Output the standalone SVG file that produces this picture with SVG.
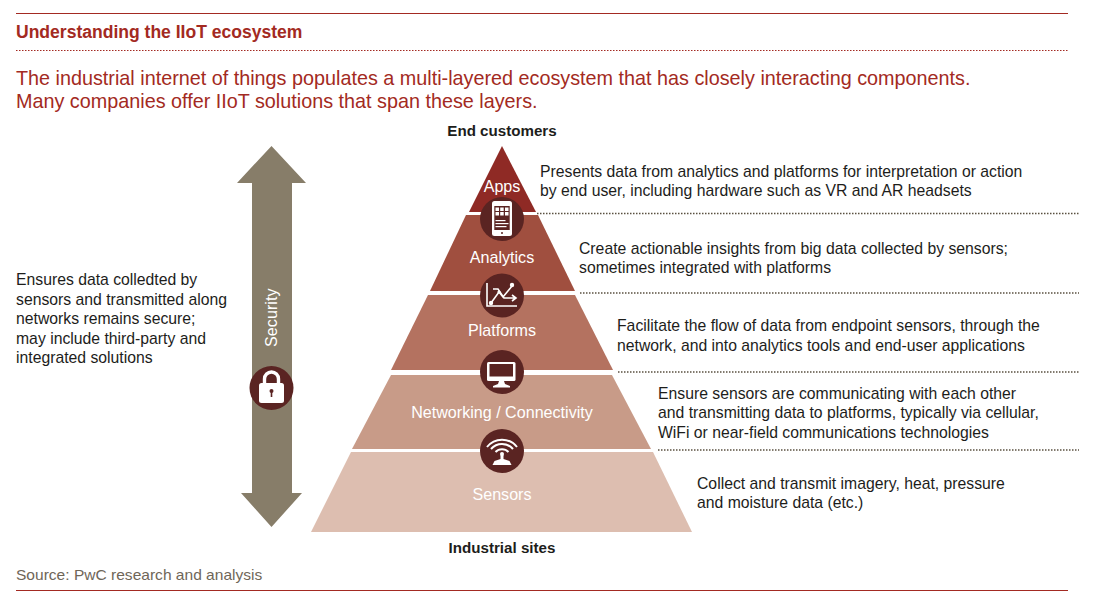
<svg xmlns="http://www.w3.org/2000/svg" width="1104" height="614" viewBox="0 0 1104 614">
<style>
text{font-family:"Liberation Sans",Arial,sans-serif}
.d{font-size:15.75px;fill:#1d1d1b}
.l{font-size:16.1px;fill:#fff;text-anchor:middle}
.c{fill:#5a2422}
.w{fill:#fff}
.ws{fill:none;stroke:#fff;stroke-width:1.6}
.dot{stroke:#5a5040;stroke-width:1.3;stroke-dasharray:1.5 1.5;fill:none}
.b{font-size:15.15px;font-weight:bold;fill:#1d1d1b;text-anchor:middle}
</style>
<rect width="1104" height="614" fill="#fff"/>
<g id="header">
<line x1="16" y1="13.500" x2="1068" y2="13.500" stroke="#a32a22" stroke-width="1"/>
<text x="16" y="37.800" font-size="17.550" font-weight="bold" fill="#a32a22">Understanding the IIoT ecosystem</text>
<line x1="16" y1="50.500" x2="1068" y2="50.500" stroke="#a32a22" stroke-width="1" stroke-dasharray="1.500 1.500"/>
<text x="16" y="84.600" font-size="19.800" fill="#a32a22">The industrial internet of things populates a multi-layered ecosystem that has closely interacting components.</text>
<text x="16" y="107.600" font-size="19.800" fill="#a32a22">Many companies offer IIoT solutions that span these layers.</text>
</g>
<g id="connectors">
<line x1="537" y1="213.500" x2="1079" y2="213.500" class="dot"/>
<line x1="580" y1="293" x2="1079" y2="293" class="dot"/>
<line x1="618" y1="372" x2="1079" y2="372" class="dot"/>
<line x1="658" y1="450" x2="1079" y2="450" class="dot"/>
</g>
<g id="security">
<polygon points="271.500,146 306,183 292,183 292,493 302,493 271.500,527 241,493 252,493 252,183 237,183" fill="#877d69"/>
<text transform="translate(277,347) rotate(-90)" font-size="16.200" fill="#fff">Security</text>
<circle cx="271.500" cy="388" r="22" class="c"/>
<path d="M264.500 384v-5a7 7 0 0 1 14 0v5" fill="none" stroke="#fff" stroke-width="3.400"/>
<rect x="259" y="383" width="25" height="20" rx="2.500" class="w"/>
<circle cx="271.500" cy="391" r="2" class="c"/><rect x="270.700" y="391" width="1.600" height="6" class="c"/>
<text x="16" y="285.400" class="d">Ensures data colledted by</text>
<text x="16" y="305.400" class="d">sensors and transmitted along</text>
<text x="16" y="324.400" class="d">networks remains secure;</text>
<text x="16" y="344.400" class="d">may include third-party and</text>
<text x="16" y="363.400" class="d">integrated solutions</text>
</g>
<text id="top-label" x="502" y="136" class="b">End customers</text>
<text id="bottom-label" x="502" y="553" class="b">Industrial sites</text>
<g id="apps">
<polygon points="502,146 536,212 469,212" fill="#8f2a25"/>
<text x="502" y="191.500" class="l">Apps</text>
<text x="540" y="177.400" class="d">Presents data from analytics and platforms for interpretation or action</text>
<text x="540" y="196.400" class="d">by end user, including hardware such as VR and AR headsets</text>
</g>
<g id="analytics">
<polygon points="466,215 538,215 575,291 430,291" fill="#a04f3f"/>
<text x="502" y="262.500" class="l">Analytics</text>
<circle cx="502" cy="219" r="22" class="c"/>
<rect x="492" y="201" width="20" height="35" rx="2.500" class="w"/>
<rect x="494.300" y="206" width="15.400" height="24" class="c"/>
<circle cx="502" cy="233" r="1" class="c"/>
<g class="w"><rect x="495.500" y="207.500" width="3.500" height="3.500"/><rect x="500.200" y="207.500" width="3.500" height="3.500"/><rect x="505" y="207.500" width="3.500" height="3.500"/><rect x="495.500" y="212" width="3.500" height="3.500"/><rect x="500.200" y="212" width="3.500" height="3.500"/><rect x="505" y="212" width="3.500" height="3.500"/><rect x="495.500" y="220" width="10" height="1.200"/><rect x="495.500" y="223" width="13" height="1.200"/><rect x="495.500" y="226" width="11" height="1.200"/></g>
<text x="579" y="254.400" class="d">Create actionable insights from big data collected by sensors;</text>
<text x="579" y="273.400" class="d">sometimes integrated with platforms</text>
</g>
<g id="platforms">
<polygon points="428,295 575,295 613,370 391,370" fill="#b47260"/>
<text x="502" y="335.500" class="l">Platforms</text>
<circle cx="502" cy="295.500" r="22" class="c"/>
<path d="M487 283v23h30" class="ws"/>
<path d="M491 303l8-11 4 5 9-11M493 289l5 0 6 9 11 0M512 295l4 3-4 3" class="ws"/>
<circle cx="491" cy="303" r="2.200" class="w"/><circle cx="499" cy="292" r="1.600" class="w"/><circle cx="512" cy="285" r="2.200" class="w"/>
<text x="617" y="331.400" class="d">Facilitate the flow of data from endpoint sensors, through the</text>
<text x="617" y="351.400" class="d">network, and into analytics tools and end-user applications</text>
</g>
<g id="networking">
<polygon points="391,375 612,375 651,449 352,449" fill="#c89b88"/>
<text x="502" y="417.500" class="l">Networking / Connectivity</text>
<circle cx="502" cy="372" r="22" class="c"/>
<rect x="487" y="362" width="28.500" height="19" rx="1.500" class="w"/>
<rect x="489.500" y="364" width="23.500" height="12.500" class="c"/>
<path d="M499 381h5l1 3 5 2v1.500h-17v-1.500l5-2z" class="w"/>
<text x="658" y="399.400" class="d">Ensure sensors are communicating with each other</text>
<text x="658" y="418.400" class="d">and transmitting data to platforms, typically via cellular,</text>
<text x="658" y="438.400" class="d">WiFi or near-field communications technologies</text>
</g>
<g id="sensors">
<polygon points="351,452 653,452 692,532 311,532" fill="#ddbeb0"/>
<text x="502" y="499.500" class="l">Sensors</text>
<circle cx="502" cy="451" r="22" class="c"/>
<path d="M487 447a19 19 0 0 1 30 0M491 449a14.500 14.500 0 0 1 22 0M495.500 452a9 9 0 0 1 13 0" fill="none" stroke="#fff" stroke-width="2"/>
<circle cx="502" cy="454" r="2" class="w"/>
<path d="M500.500 455h3v4l6 2 2 4h-19l2-4 6-2z" class="w"/>
<text x="697" y="489.400" class="d">Collect and transmit imagery, heat, pressure</text>
<text x="697" y="508.400" class="d">and moisture data (etc.)</text>
</g>
<text id="source" x="16" y="579.500" font-size="15.550" fill="#6f6658">Source: PwC research and analysis</text>
<line id="footer-rule" x1="16" y1="590.500" x2="1068" y2="590.500" stroke="#a32a22" stroke-width="1"/>
</svg>
